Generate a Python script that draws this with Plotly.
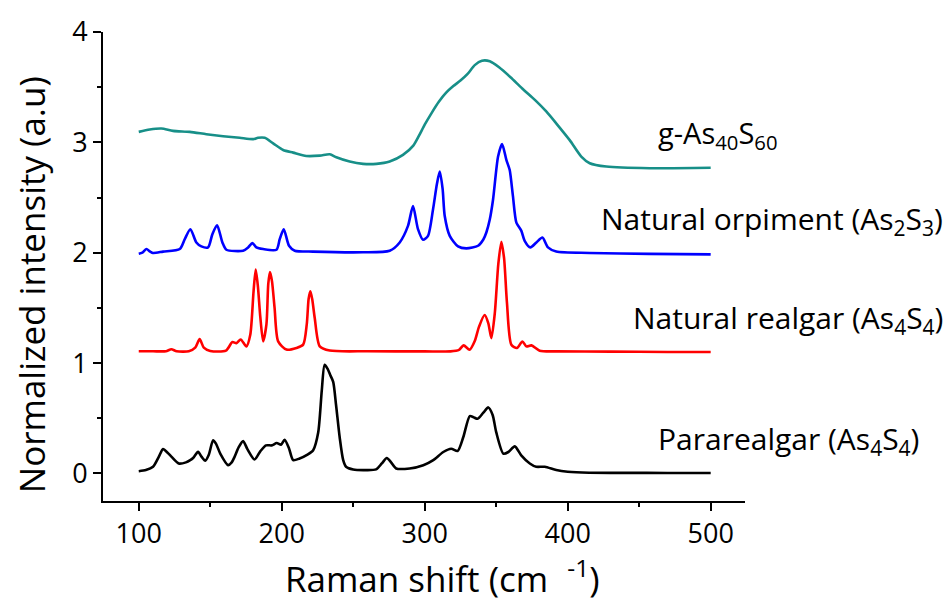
import plotly.graph_objects as go

# ---- data (Raman shift cm^-1, normalized intensity) ----
para_x = [100, 105, 110, 114, 117, 120, 123, 128, 133, 136, 138, 141.5, 144, 146.5, 149, 152, 154, 157, 162.5,
          165, 167, 170, 173, 176, 181, 185, 189, 193, 196.5, 199.5, 202, 205, 208, 212.5, 218, 222, 225.5, 228,
          230, 232, 234, 236, 238, 240.5, 243, 245, 250, 257, 266, 270, 273.5, 276.5, 280, 289.5, 299, 306, 313,
          318.5, 323, 327, 331.5, 334, 337, 341, 344.5, 347.5, 350, 355, 358.5, 363, 367.5, 373.5, 378, 384, 392,
          400, 415, 440, 470, 500]
para_y = [0.02, 0.03, 0.06, 0.15, 0.22, 0.19, 0.15, 0.09, 0.10, 0.12, 0.14, 0.195, 0.15, 0.115, 0.17, 0.30, 0.27,
          0.18, 0.075, 0.10, 0.15, 0.24, 0.293, 0.22, 0.126, 0.20, 0.254, 0.254, 0.275, 0.26, 0.305, 0.23, 0.12,
          0.135, 0.17, 0.21, 0.37, 0.75, 0.985, 0.95, 0.89, 0.83, 0.62, 0.33, 0.12, 0.06, 0.035, 0.03, 0.036, 0.09,
          0.14, 0.10, 0.045, 0.045, 0.074, 0.12, 0.194, 0.224, 0.203, 0.33, 0.52, 0.51, 0.495, 0.55, 0.598, 0.53,
          0.374, 0.179, 0.194, 0.245, 0.164, 0.09, 0.06, 0.06, 0.03, 0.015, 0.006, 0.005, 0.004, 0.004]

realgar_x = [100, 110, 119, 122.8, 126.5, 135, 139.5, 142.6, 145.5, 150, 161, 165.5, 168.3, 171.3, 175.3, 178,
             180.3, 181.8, 183.3, 185, 187, 189.3, 190.6, 191.8, 193.2, 195, 197.5, 203.3, 210.3, 215, 217.5,
             218.8, 220, 221.3, 223.1, 226.6, 233.6, 260, 300, 318, 324, 327.2, 331.4, 335, 338, 341.9, 344.5,
             346.6, 349, 351.5, 353.6, 355.5, 357.5, 360.6, 364.5, 368.3, 371.1, 374.6, 380.4, 392, 430, 470, 500]
realgar_y = [1.107, 1.107, 1.107, 1.125, 1.107, 1.107, 1.14, 1.217, 1.14, 1.11, 1.113, 1.19, 1.18, 1.214, 1.151,
             1.256, 1.65, 1.848, 1.70, 1.42, 1.196, 1.35, 1.72, 1.825, 1.74, 1.50, 1.196, 1.122, 1.137, 1.167, 1.35,
             1.58, 1.651, 1.58, 1.406, 1.151, 1.113, 1.107, 1.106, 1.106, 1.12, 1.16, 1.121, 1.20, 1.33, 1.435,
             1.36, 1.226, 1.45, 1.90, 2.099, 1.95, 1.55, 1.166, 1.136, 1.196, 1.151, 1.16, 1.112, 1.106, 1.104,
             1.10, 1.10]

orpiment_x = [100, 102.5, 105.3, 108, 110, 117, 128.7, 132.2, 136.1, 140.3, 143.8, 148.5, 151.5, 154.8, 158.5,
              161.3, 173, 176.5, 179.5, 182.3, 187, 196.3, 198.6, 201.4, 205.1, 209.1, 221.9, 256.9, 275.5, 282.5,
              288.3, 291.8, 295.3, 298.8, 302.3, 305.8, 308.5, 310.5, 312.5, 314, 317.5, 323.3, 329.1, 337.3, 341,
              343.1, 345.5, 347.8, 351.3, 354.1, 357.1, 359.4, 361.7, 364.1, 367.6, 369.9, 373.9, 378.1, 382.3,
              386.2, 392, 415.4, 457, 500]
orpiment_y = [1.99, 2.00, 2.033, 2.01, 1.998, 2.01, 2.033, 2.123, 2.213, 2.093, 2.057, 2.048, 2.168, 2.249, 2.093,
              2.027, 2.018, 2.048, 2.087, 2.048, 2.033, 2.027, 2.123, 2.213, 2.063, 2.018, 2.01, 2.004, 2.018,
              2.093, 2.243, 2.422, 2.213, 2.117, 2.153, 2.392, 2.62, 2.736, 2.58, 2.333, 2.153, 2.057, 2.039, 2.063,
              2.12, 2.183, 2.30, 2.482, 2.871, 2.985, 2.841, 2.751, 2.512, 2.273, 2.198, 2.108, 2.048, 2.093, 2.138,
              2.048, 2.01, 1.998, 1.989, 1.985]

glass_x = [100, 107.7, 115.8, 124, 135.7, 147.3, 159, 170.6, 180, 183.4, 188.1, 194, 201, 208, 217.2, 226.6, 233.6,
           238.2, 247.5, 256.9, 266.2, 275.5, 284.8, 292, 296, 300, 305, 310, 315, 320, 325, 330, 335, 340, 345.5,
           352, 360, 368, 377.4, 385, 392.1, 401.4, 409.5, 415.4, 427, 457.3, 500]
glass_y = [3.095, 3.116, 3.125, 3.104, 3.095, 3.074, 3.056, 3.041, 3.029, 3.041, 3.041, 2.991, 2.931, 2.907, 2.877,
           2.88, 2.892, 2.865, 2.826, 2.805, 2.805, 2.826, 2.886, 2.97, 3.06, 3.16, 3.27, 3.37, 3.45, 3.51, 3.56,
           3.62, 3.70, 3.74, 3.735, 3.68, 3.59, 3.49, 3.38, 3.28, 3.17, 3.02, 2.871, 2.811, 2.781, 2.766, 2.77]

series_names = ["Pararealgar (As<sub>4</sub>S<sub>4</sub>)",
                "Natural realgar (As<sub>4</sub>S<sub>4</sub>)",
                "Natural orpiment (As<sub>2</sub>S<sub>3</sub>)",
                "g-As<sub>40</sub>S<sub>60</sub>"]

x_ticks = [100, 200, 300, 400, 500]
y_ticks = [0, 1, 2, 3, 4]

FONT = "Open Sans"
fig = go.Figure()
for xs, ys, col, nm in [(para_x, para_y, "#000000", series_names[0]),
                        (realgar_x, realgar_y, "#ff0000", series_names[1]),
                        (orpiment_x, orpiment_y, "#0000ff", series_names[2]),
                        (glass_x, glass_y, "#178f88", series_names[3])]:
    fig.add_trace(go.Scatter(x=xs, y=ys, mode="lines", name=nm,
                             line=dict(color=col, width=2.6, shape="spline", smoothing=0.7),
                             showlegend=False))

# labels next to each curve
label_pos = [(0.862, "left", 0.30, 30), (1.3115, "right", 1.40, 30), (1.3115, "right", 2.30, 30),
             (0.862, "left", 3.07, 29)]
for nm, (px, anc, yv, fs) in zip(series_names, label_pos):
    fig.add_annotation(text=nm, xref="paper", yref="y", x=px, y=yv, xanchor=anc, yanchor="middle",
                       showarrow=False, font=dict(family=FONT, size=fs, color="black"))

axis_common = dict(showline=True, linecolor="black", linewidth=2, ticks="outside", ticklen=8, tickwidth=2,
                   tickcolor="black", showgrid=False, zeroline=False, mirror=False,
                   tickfont=dict(family=FONT, size=27, color="black"))
fig.update_xaxes(range=[75, 524], tickvals=x_ticks, ticktext=[str(v) for v in x_ticks],
                 minor=dict(ticks="outside", ticklen=4, tickwidth=2, tickcolor="black", dtick=50, tick0=0),
                 title=dict(text="&nbsp;&nbsp;&nbsp;&nbsp;Raman shift (cm<sup>&nbsp;&nbsp;&nbsp;-1</sup>)",
                            font=dict(family=FONT, size=35, color="black"), standoff=16),
                 **axis_common)
fig.update_yaxes(range=[-0.25, 4.0], tickvals=y_ticks, ticktext=[str(v) for v in y_ticks],
                 minor=dict(ticks="outside", ticklen=4, tickwidth=2, tickcolor="black", dtick=0.5, tick0=0),
                 title=dict(text="Normalized intensity (a.u)&nbsp;&nbsp;&nbsp;&nbsp;",
                            font=dict(family=FONT, size=35, color="black"), standoff=16),
                 **axis_common)
fig.update_layout(width=947, height=610, margin=dict(l=103, r=202, t=27, b=109),
                  plot_bgcolor="white", paper_bgcolor="white")
fig.write_html("out.html", post_script="document.body.style.margin='0';",
               config={"displayModeBar": False})
